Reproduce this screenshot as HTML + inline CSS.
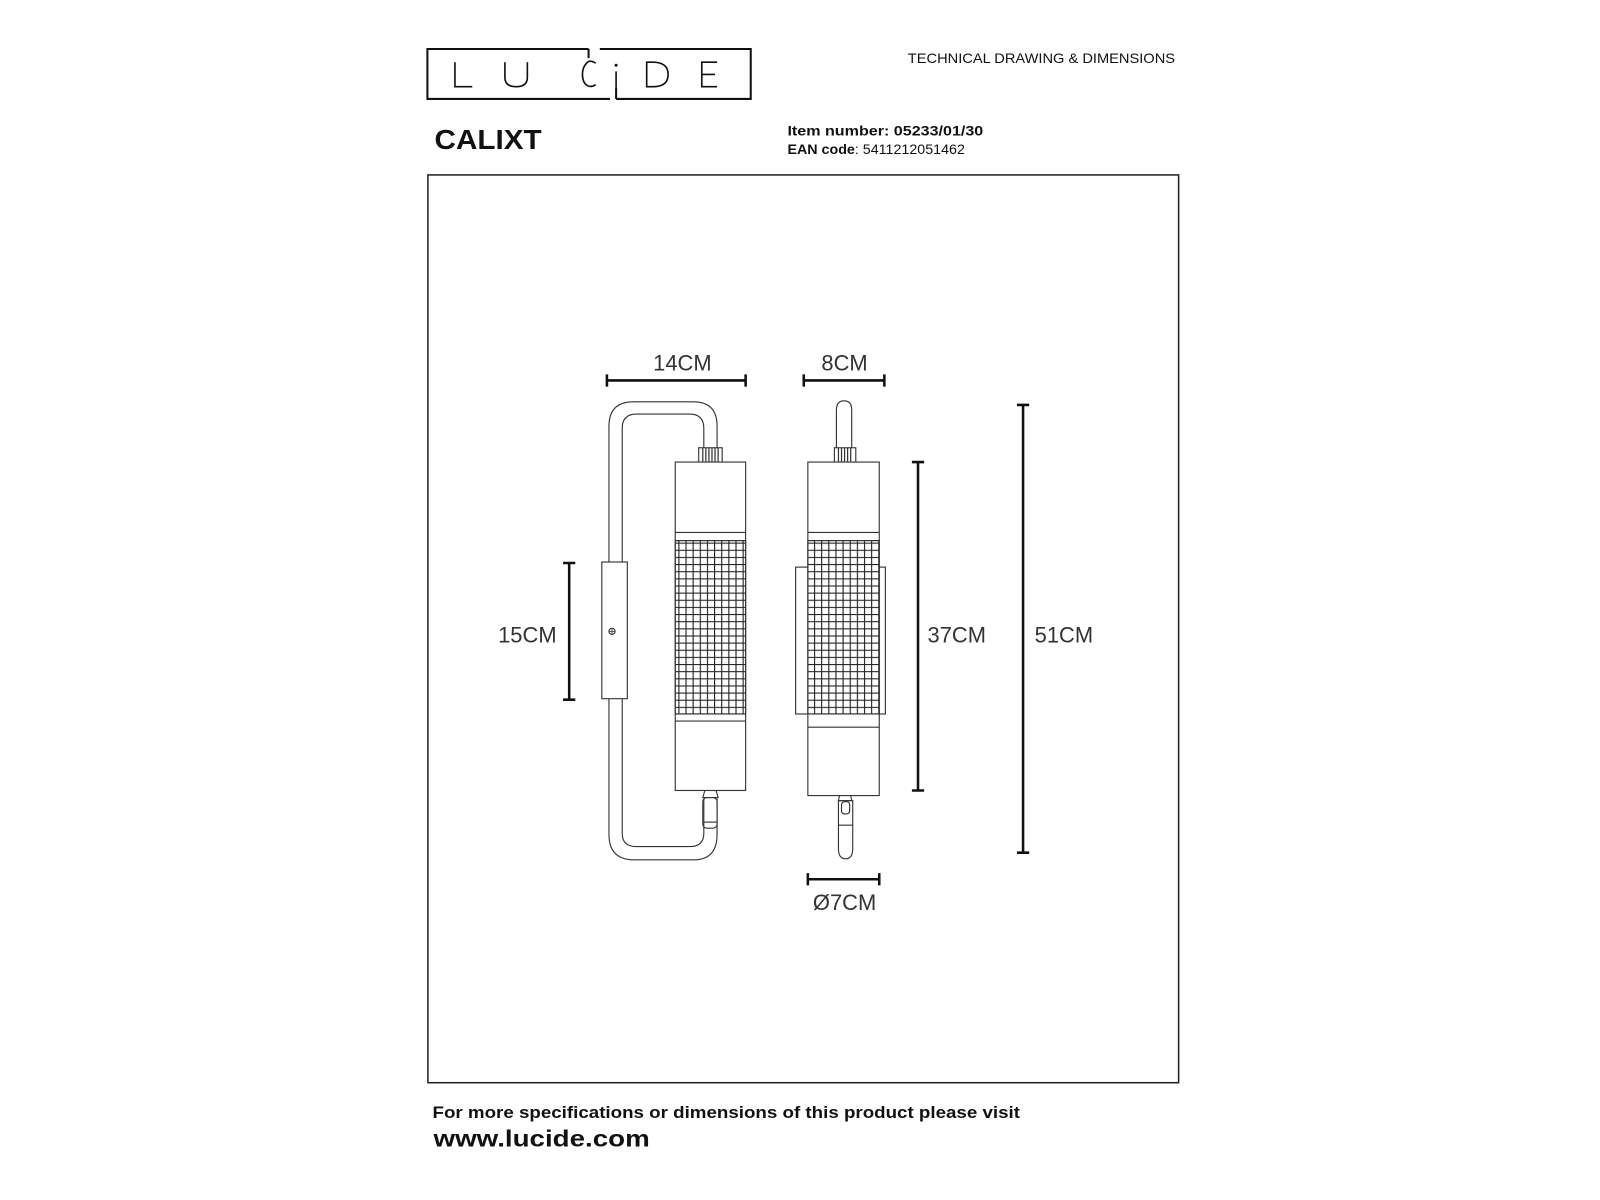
<!DOCTYPE html>
<html><head><meta charset="utf-8"><style>
html,body{margin:0;padding:0;background:#fff;}
svg{display:block;}
</style></head><body>
<svg width="1600" height="1200" viewBox="0 0 1568.6 1176.5" xmlns="http://www.w3.org/2000/svg" font-family="Liberation Sans, sans-serif">
<defs>
<pattern id="mesh" width="7" height="7" patternUnits="userSpaceOnUse">
<path d="M0 0.5H7M0.5 0V7" stroke="#222" stroke-width="1.2" fill="none"/>
</pattern>
</defs>
<rect width="1568.6" height="1176.5" fill="#fff"/>
<!-- logo -->
<g stroke="#111" stroke-width="2" fill="none">
<path d="M577 48H419V97H598"/>
<path d="M588 48H736V97H604"/>
<path d="M577 48V57"/><path d="M604 97V86"/>
</g>
<g stroke="#111" stroke-width="1.6" fill="none">
<path d="M446 61V85H463"/>
<path d="M495 61V76Q495 85 506 85Q517 85 517 76V61"/>
<path d="M584 62Q578 58 575 62Q571 66 571 73Q571 81 576 84Q580 86 584 83"/>
<path d="M604 70V86"/>
<path d="M634 61V85H640Q655 85 655 73Q655 61 640 61Z"/>
<path d="M703 61H688V85H703M688 73H701"/>
</g>
<circle cx="604" cy="64" r="1.5" fill="#111"/>
<text x="890" y="62" font-size="13.5" fill="#111" textLength="262" lengthAdjust="spacingAndGlyphs">TECHNICAL DRAWING &amp; DIMENSIONS</text>
<text x="426" y="146" font-size="27" font-weight="bold" fill="#111" textLength="105" lengthAdjust="spacingAndGlyphs">CALIXT</text>
<text x="772" y="133" font-size="13.5" font-weight="bold" fill="#111" textLength="192" lengthAdjust="spacingAndGlyphs">Item number: 05233/01/30</text>
<text x="772" y="151" font-size="13.5" fill="#111" textLength="174" lengthAdjust="spacingAndGlyphs"><tspan font-weight="bold">EAN code</tspan>: 5411212051462</text>
<rect x="419.5" y="171.5" width="736" height="890" fill="none" stroke="#222" stroke-width="1.5"/>
<text x="424" y="1096" font-size="16.5" font-weight="bold" fill="#111" textLength="576" lengthAdjust="spacingAndGlyphs">For more specifications or dimensions of this product please visit</text>
<text x="425" y="1124" font-size="23" font-weight="bold" fill="#111" textLength="212" lengthAdjust="spacingAndGlyphs">www.lucide.com</text>

<!-- dimensions -->
<g stroke="#111" stroke-width="2.5" fill="none">
<path d="M595 373H731M595 367V379M731 367V379"/>
<path d="M788 373H867M788 367V379M867 367V379"/>
<path d="M558 552V686M552 552H564M552 686H564"/>
<path d="M900 453V775M894 453H906M894 775H906"/>
<path d="M1003 397V836M997 397H1009M997 836H1009"/>
<path d="M792 862H862M792 856V868M862 856V868"/>
</g>
<g font-size="21.5" fill="#333" text-anchor="middle">
<text x="669" y="363">14CM</text>
<text x="828" y="363">8CM</text>
<text x="517" y="630">15CM</text>
<text x="938" y="630">37CM</text>
<text x="1043" y="630">51CM</text>
<text x="828" y="892">Ø7CM</text>
</g>

<!-- left lamp -->
<g stroke="#333" stroke-width="1.1" fill="none">
<path d="M597 551V418Q597 394 621 394H680Q703 394 703 418V439"/>
<path d="M610 551V420Q610 406 624 406H676Q690 406 690 420V439"/>
<path d="M597 685V818Q597 843 622 843H680Q703 843 703 818V783"/>
<path d="M610 685V817Q610 830 624 830H676Q690 830 690 817V783"/>
<rect x="590" y="551" width="25" height="134" fill="#fff"/>
<circle cx="600" cy="619" r="3"/>
<path d="M597.5 619H602.5M600 616.5V621.5" stroke-width="0.8"/>
<rect x="685" y="439" width="23" height="14" fill="#fff"/>
<path d="M689 439V453M692 439V453M695 439V453M698 439V453M701 439V453M704 439V453" stroke-width="1.2"/>
<rect x="662" y="453" width="69" height="322" fill="#fff"/>
<path d="M662 522H731M662 530H731M662 700H731M662 707H731"/>
<rect x="662" y="530" width="69" height="170" fill="url(#mesh)"/>
<path d="M691 775L689 782H704L702 775"/>
<rect x="689" y="782" width="14" height="30" rx="4"/>
<path d="M689 806H703"/>
</g>

<!-- right lamp -->
<g stroke="#333" stroke-width="1.1" fill="none">
<path d="M820 439V402Q820 393 827.5 393Q835 393 835 402V439"/>
<rect x="780" y="556" width="88" height="144" fill="#fff"/>
<rect x="818" y="439" width="21" height="14" fill="#fff"/>
<path d="M822 439V453M825 439V453M828 439V453M831 439V453M834 439V453" stroke-width="1.2"/>
<rect x="792" y="453" width="70" height="327" fill="#fff"/>
<path d="M792 522H862M792 530H862M792 700H862M792 713H862"/>
<rect x="792" y="530" width="70" height="170" fill="url(#mesh)"/>
<path d="M823 780L822 785H835L834 780"/>
<path d="M822 785V832Q822 842 829 842Q836 842 836 832V785Z"/>
<rect x="825" y="786" width="8" height="12" rx="3"/>
<path d="M822 809H836"/>
</g>
</svg>
</body></html>
